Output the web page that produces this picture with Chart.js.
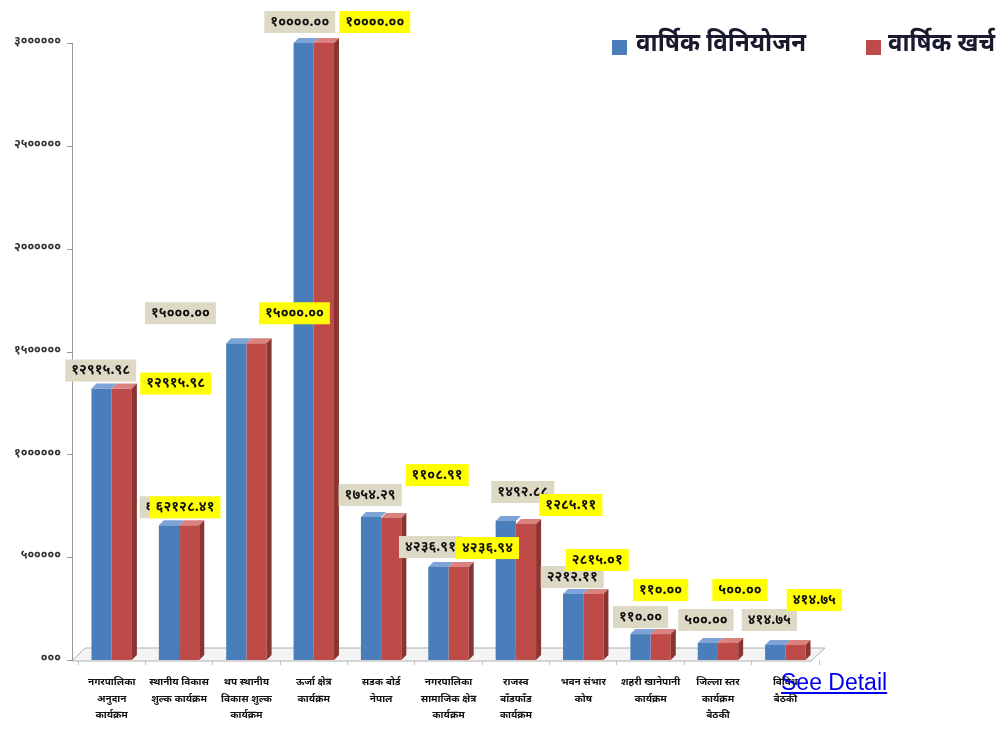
<!DOCTYPE html>
<html>
<head>
<meta charset="utf-8">
<script src="https://cdn.jsdelivr.net/npm/chart.js@4.4.1/dist/chart.umd.min.js"></script>
<style>
  body { margin: 0; background: #fff; }
  #wrap { position: relative; width: 1001px; height: 730px; }
  #link { position: absolute; left: 781px; top: 669px; font: 23px "Liberation Sans", Arial, sans-serif; color: #0000ee; text-decoration: underline; }
</style>
</head>
<body>
<div id="wrap">
  <canvas id="myChart" width="1001" height="730"></canvas>
  <a id="link" href="#">See Detail</a>
</div>
<script>
const ctx = document.getElementById('myChart');
const devFont = "'Noto Sans Devanagari', 'Lohit Devanagari', 'Mangal', 'Noto Sans', sans-serif";

// categories (multi-line)
const kaaryakram = [
  ['नगरपालिका', 'अनुदान', 'कार्यक्रम'],
  ['स्थानीय विकास', 'शुल्क कार्यक्रम'],
  ['थप स्थानीय', 'विकास शुल्क', 'कार्यक्रम'],
  ['ऊर्जा क्षेत्र', 'कार्यक्रम'],
  ['सडक बोर्ड', 'नेपाल'],
  ['नगरपालिका', 'सामाजिक क्षेत्र', 'कार्यक्रम'],
  ['राजस्व', 'बाँडफाँड', 'कार्यक्रम'],
  ['भवन संभार', 'कोष'],
  ['शहरी खानेपानी', 'कार्यक्रम'],
  ['जिल्ला स्तर', 'कार्यक्रम', 'बैठकी'],
  ['विविध', 'बैठकी']
]
// bar heights
const viniyojan = [1320000, 655000, 1540000, 3000000, 695000, 452000, 676000, 321000, 126000, 83000, 73000]
const kharcha   = [1320000, 655000, 1540000, 3000000, 690000, 452000, 661000, 321000, 126000, 83000, 73000]
// data label texts
const viniyojanLabel = ['१२९१५.९८','६२१२८.४१','१५०००.००','१००००.००','१७५४.२९','४२३६.९१','१४९२.८८','२२१२.११','११०.००','५००.००','४१४.७५']
const kharchaLabel   = ['१२९१५.९८','६२१२८.४१','१५०००.००','१००००.००','११०८.९१','४२३६.९४','१२८५.११','२८१५.०१','११०.००','५००.००','४१४.७५']
// y tick labels
const yTicks = ['०००','५०००००','१००००००','१५०००००','२००००००','२५०००००','३००००००']

// label offsets from the bar pair centre / bar top (px)
const greyDx = [-11, -4, -66, -14, -11, -18, 7, -11, -10, -12, -16]
const greyDy = [-18, -18, -30, -21, -22, -20, -29, -17, -17, -23, -25]
const yelDx = [64, 6, 48, 61, 56, 39, 55, 14, 10, 22, 29]
const yelDy = [-5, -18, -30, -21, -42, -19, -16, -34, -44, -53, -45]

const depth = 5
const axisGap = 6

// floor + y axis line drawn a few px left of the bars, like the 3D original
const floor3d = {
  id: 'floor3d',
  beforeDatasetsDraw(chart) {
    const a = chart.chartArea, c = chart.ctx
    const x0 = a.left - axisGap
    const y = a.bottom + 1
    c.save()
    c.beginPath()
    c.moveTo(x0, y)
    c.lineTo(a.right - 8, y)
    c.lineTo(a.right + 6, y - 13)
    c.lineTo(x0 + 13, y - 13)
    c.closePath()
    c.fillStyle = '#f4f4f4'
    c.fill()
    c.strokeStyle = '#b0b0b0'
    c.lineWidth = 1
    c.stroke()
    // y axis
    c.strokeStyle = '#999'
    c.beginPath()
    c.moveTo(x0 + 0.5, a.top)
    c.lineTo(x0 + 0.5, y)
    const ys = chart.scales.y
    ys.ticks.forEach(t => {
      const py = Math.round(ys.getPixelForValue(t.value)) + 0.5
      c.moveTo(x0 - 5, py)
      c.lineTo(x0, py)
    })
    c.stroke()
    c.restore()
  }
}

const bars3d = {
  id: 'bars3d',
  afterDatasetsDraw(chart) {
    const c = chart.ctx
    const tops = ['#7ea3d6', '#d9827f']
    c.save()
    chart.data.datasets.forEach((ds, di) => {
      chart.getDatasetMeta(di).data.forEach(bar => {
        const l = bar.x - bar.width / 2, r = bar.x + bar.width / 2
        c.fillStyle = tops[di]
        c.beginPath()
        c.moveTo(l, bar.y); c.lineTo(l + depth, bar.y - depth)
        c.lineTo(r + depth, bar.y - depth); c.lineTo(r, bar.y)
        c.closePath(); c.fill()
        if (di === 1) {
          c.fillStyle = '#8a3532'
          c.beginPath()
          c.moveTo(r, bar.y); c.lineTo(r + depth, bar.y - depth)
          c.lineTo(r + depth, bar.base - depth); c.lineTo(r, bar.base)
          c.closePath(); c.fill()
        }
      })
    })
    c.restore()
  }
}

function box(c, text, x, y, bg) {
  c.font = 'bold 14px ' + devFont
  const w = c.measureText(text).width + 12
  const h = 22
  c.fillStyle = bg
  c.fillRect(x - w / 2, y - h / 2, w, h)
  c.fillStyle = '#111'
  c.fillText(text, x, y + 1)
}

const dataLabels = {
  id: 'dataLabels',
  afterDraw(chart) {
    const c = chart.ctx
    const m0 = chart.getDatasetMeta(0).data, m1 = chart.getDatasetMeta(1).data
    c.save()
    c.textAlign = 'center'
    c.textBaseline = 'middle'
    m0.forEach((b, i) => {
      const cx = (b.x + m1[i].x) / 2
      box(c, viniyojanLabel[i], cx + greyDx[i], b.y + greyDy[i], '#ddd9c4')
    })
    m1.forEach((b, i) => {
      const cx = (m0[i].x + b.x) / 2
      box(c, kharchaLabel[i], cx + yelDx[i], m0[i].y + yelDy[i], '#ffff00')
    })
    c.restore()
  }
}

const legend3d = {
  id: 'legend3d',
  afterDraw(chart) {
    const c = chart.ctx
    const pos = [[612, 636, 170], [866, 888, 107]]
    c.save()
    c.font = 'bold 26px ' + devFont
    c.textBaseline = 'middle'
    chart.data.datasets.forEach((ds, i) => {
      c.fillStyle = ds.backgroundColor
      c.fillRect(pos[i][0], 40, 15, 15)
      c.fillStyle = '#1a1a2e'
      c.fillText(ds.label, pos[i][1], 46, pos[i][2])
    })
    c.restore()
  }
}

new Chart(ctx, {
  type: 'bar',
  data: {
    labels: kaaryakram,
    datasets: [{
      label: 'वार्षिक विनियोजन',
      data: viniyojan,
      backgroundColor: '#4a7ebb',
      barPercentage: 1.0,
      categoryPercentage: 0.6
    }, {
      label: 'वार्षिक खर्च',
      data: kharcha,
      backgroundColor: '#be4b48',
      barPercentage: 1.0,
      categoryPercentage: 0.6
    }]
  },
  options: {
    responsive: false,
    animation: false,
    layout: { padding: { top: 43, right: 182, left: 0, bottom: 0 } },
    plugins: {
      legend: { display: false },
      tooltip: { enabled: false }
    },
    scales: {
      x: {
        afterFit: s => { s.height = 70 },
        grid: { display: true, drawOnChartArea: false, tickLength: 5, color: '#c8c8c8', offset: true },
        border: { display: false },
        ticks: {
          padding: 10,
          maxRotation: 0,
          autoSkip: false,
          color: '#111',
          font: { size: 10, weight: 'bold', family: devFont, lineHeight: 1.65 }
        }
      },
      y: {
        min: 0,
        max: 3000000,
        afterFit: s => { s.width = 78 },
        grid: { display: false },
        border: { display: false },
        ticks: {
          stepSize: 500000,
          padding: 9,
          color: '#333',
          font: { size: 12, weight: 'bold', family: devFont },
          callback: (v, i) => yTicks[i]
        }
      }
    }
  },
  plugins: [floor3d, bars3d, dataLabels, legend3d]
});
</script>
</body>
</html>
